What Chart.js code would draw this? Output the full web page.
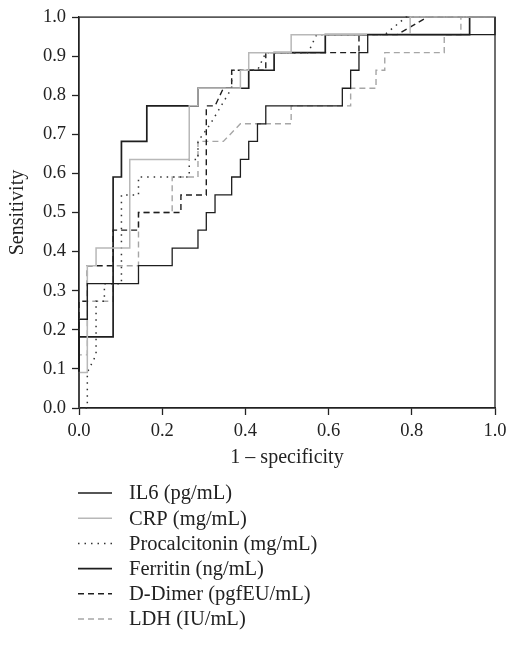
<!DOCTYPE html>
<html>
<head>
<meta charset="utf-8">
<script src="https://cdn.jsdelivr.net/npm/chart.js@4.4.0/dist/chart.umd.min.js"></script>
<style>
html, body { margin: 0; padding: 0; background: #fff; }
canvas { display: block; }
</style>
</head>
<body>
<canvas id="rocChart" width="509" height="654"></canvas>
<script>
// ROC curves (x = 1 - specificity, y = sensitivity)
const seriesNames = ['IL6 (pg/mL)', 'CRP (mg/mL)', 'Procalcitonin (mg/mL)', 'Ferritin (ng/mL)', 'D-Dimer (pgfEU/mL)', 'LDH (IU/mL)'];

const il6X = [0, 0, 0.020, 0.020, 0.143, 0.143, 0.224, 0.224, 0.286, 0.286, 0.306, 0.306, 0.327, 0.327, 0.367, 0.367, 0.388, 0.388, 0.408, 0.408, 0.429, 0.429, 0.449, 0.449, 0.633, 0.633, 0.653, 0.653, 0.673, 0.673, 0.694, 0.694, 1, 1];
const il6Y = [0, 0.227, 0.227, 0.318, 0.318, 0.364, 0.364, 0.409, 0.409, 0.455, 0.455, 0.500, 0.500, 0.545, 0.545, 0.591, 0.591, 0.636, 0.636, 0.682, 0.682, 0.727, 0.727, 0.773, 0.773, 0.818, 0.818, 0.864, 0.864, 0.909, 0.909, 0.955, 0.955, 1];

const crpX = [0, 0, 0.020, 0.020, 0.041, 0.041, 0.122, 0.122, 0.265, 0.265, 0.286, 0.286, 0.388, 0.388, 0.408, 0.408, 0.510, 0.510, 0.796, 0.796, 1];
const crpY = [0, 0.091, 0.091, 0.364, 0.364, 0.409, 0.409, 0.636, 0.636, 0.773, 0.773, 0.818, 0.818, 0.864, 0.864, 0.909, 0.909, 0.955, 0.955, 1, 1];

const pctX = [0, 0.020, 0.020, 0.041, 0.041, 0.061, 0.061, 0.102, 0.102, 0.143, 0.143, 0.265, 0.265, 0.286, 0.286, 0.316, 0.367, 0.367, 0.429, 0.449, 0.551, 0.571, 0.735, 0.786, 1];
const pctY = [0, 0, 0.091, 0.136, 0.273, 0.273, 0.318, 0.318, 0.545, 0.545, 0.591, 0.591, 0.636, 0.636, 0.682, 0.727, 0.818, 0.864, 0.864, 0.909, 0.909, 0.955, 0.955, 1, 1];

const ferritinX = [0, 0, 0.082, 0.082, 0.102, 0.102, 0.163, 0.163, 0.286, 0.286, 0.408, 0.408, 0.469, 0.469, 0.592, 0.592, 0.939, 0.939, 1];
const ferritinY = [0, 0.182, 0.182, 0.591, 0.591, 0.682, 0.682, 0.773, 0.773, 0.818, 0.818, 0.864, 0.864, 0.909, 0.909, 0.955, 0.955, 1, 1];

const dimerX = [0, 0, 0.020, 0.020, 0.082, 0.082, 0.143, 0.143, 0.245, 0.245, 0.306, 0.306, 0.327, 0.347, 0.367, 0.367, 0.449, 0.449, 0.673, 0.673, 0.765, 0.837, 1];
const dimerY = [0, 0.273, 0.273, 0.364, 0.364, 0.455, 0.455, 0.500, 0.500, 0.545, 0.545, 0.773, 0.773, 0.818, 0.818, 0.864, 0.864, 0.909, 0.909, 0.955, 0.955, 1, 1];

const ldhX = [0, 0, 0.020, 0.020, 0.082, 0.082, 0.143, 0.143, 0.224, 0.224, 0.286, 0.286, 0.347, 0.388, 0.510, 0.510, 0.653, 0.653, 0.714, 0.714, 0.735, 0.735, 0.878, 0.878, 0.918, 0.918, 1];
const ldhY = [0, 0.136, 0.136, 0.273, 0.273, 0.364, 0.364, 0.500, 0.500, 0.591, 0.591, 0.682, 0.682, 0.727, 0.727, 0.773, 0.773, 0.818, 0.818, 0.864, 0.864, 0.909, 0.909, 0.955, 0.955, 1, 1];

const fontFamily = "'Liberation Serif', 'Times New Roman', serif";
const inkColor = '#222';

function toPoints(xs, ys) {
    return xs.map((x, i) => ({ x: x, y: ys[i] }));
}

function makeDataset(label, xs, ys, color, dash, width) {
    return {
        label: label,
        data: toPoints(xs, ys),
        borderColor: color,
        borderDash: dash,
        borderWidth: width,
        pointRadius: 0,
        fill: false,
        tension: 0,
        clip: false
    };
}

// frame on all four sides
const framePlugin = {
    id: 'frame',
    beforeDatasetsDraw(chart) {
        const { ctx, chartArea } = chart;
        ctx.save();
        ctx.strokeStyle = inkColor;
        ctx.lineWidth = 1.3;
        ctx.strokeRect(chartArea.left, chartArea.top, chartArea.right - chartArea.left, chartArea.bottom - chartArea.top);
        ctx.restore();
    }
};

// one legend row per series, under the x axis title
const stackedLegend = {
    id: 'stackedLegend',
    afterDraw(chart) {
        const ctx = chart.ctx;
        const top = 493;
        const rowHeight = 25.2;
        ctx.save();
        chart.data.datasets.forEach((ds, i) => {
            const y = top + i * rowHeight;
            ctx.beginPath();
            ctx.strokeStyle = ds.borderColor;
            ctx.lineWidth = ds.borderWidth;
            ctx.setLineDash(ds.borderDash);
            ctx.moveTo(78, y);
            ctx.lineTo(112, y);
            ctx.stroke();
            ctx.setLineDash([]);
            ctx.fillStyle = inkColor;
            ctx.font = '20.5px ' + fontFamily;
            ctx.textBaseline = 'middle';
            ctx.textAlign = 'left';
            ctx.fillText(ds.label, 129, y + 1);
        });
        ctx.restore();
    }
};

const ctx = document.getElementById('rocChart').getContext('2d');
const rocChart = new Chart(ctx, {
    type: 'line',
    data: {
        datasets: [
            makeDataset(seriesNames[0], il6X, il6Y, '#1e1e1e', [], 1.3),
            makeDataset(seriesNames[1], crpX, crpY, '#b8b8b8', [], 1.5),
            makeDataset(seriesNames[2], pctX, pctY, '#333333', [1.5, 5], 1.5),
            makeDataset(seriesNames[3], ferritinX, ferritinY, '#1e1e1e', [], 1.7),
            makeDataset(seriesNames[4], dimerX, dimerY, '#1e1e1e', [6, 4], 1.4),
            makeDataset(seriesNames[5], ldhX, ldhY, '#a6a6a6', [6, 4], 1.4)
        ]
    },
    options: {
        responsive: false,
        animation: false,
        layout: {
            padding: { left: 0, top: 16, right: 14, bottom: 176 }
        },
        plugins: {
            legend: { display: false },
            tooltip: { enabled: false }
        },
        scales: {
            x: {
                type: 'linear',
                min: 0,
                max: 1,
                afterFit: scale => {
                    scale.height = 70;
                    scale.paddingLeft = 0;
                    scale.paddingRight = 0;
                },
                ticks: {
                    stepSize: 0.2,
                    padding: 5,
                    color: inkColor,
                    font: { family: fontFamily, size: 18.5 },
                    callback: value => value.toFixed(1)
                },
                grid: { drawOnChartArea: false, drawTicks: true, tickLength: 7, tickColor: inkColor, tickWidth: 1.3 },
                border: { display: true, color: inkColor, width: 1.3 },
                title: {
                    display: true,
                    text: '1 – specificity',
                    color: inkColor,
                    font: { family: fontFamily, size: 20 },
                    padding: { top: 0, bottom: 8 }
                }
            },
            y: {
                min: 0,
                max: 1,
                afterFit: scale => { scale.width = 79; },
                ticks: {
                    stepSize: 0.1,
                    padding: 6,
                    color: inkColor,
                    font: { family: fontFamily, size: 18.5 },
                    callback: value => value.toFixed(1)
                },
                grid: { drawOnChartArea: false, drawTicks: true, tickLength: 7, tickColor: inkColor, tickWidth: 1.3 },
                border: { display: true, color: inkColor, width: 1.3 },
                title: {
                    display: true,
                    text: 'Sensitivity',
                    color: inkColor,
                    font: { family: fontFamily, size: 20 },
                    padding: { top: 6, bottom: 0 }
                }
            }
        }
    },
    plugins: [framePlugin, stackedLegend]
});
</script>
</body>
</html>
